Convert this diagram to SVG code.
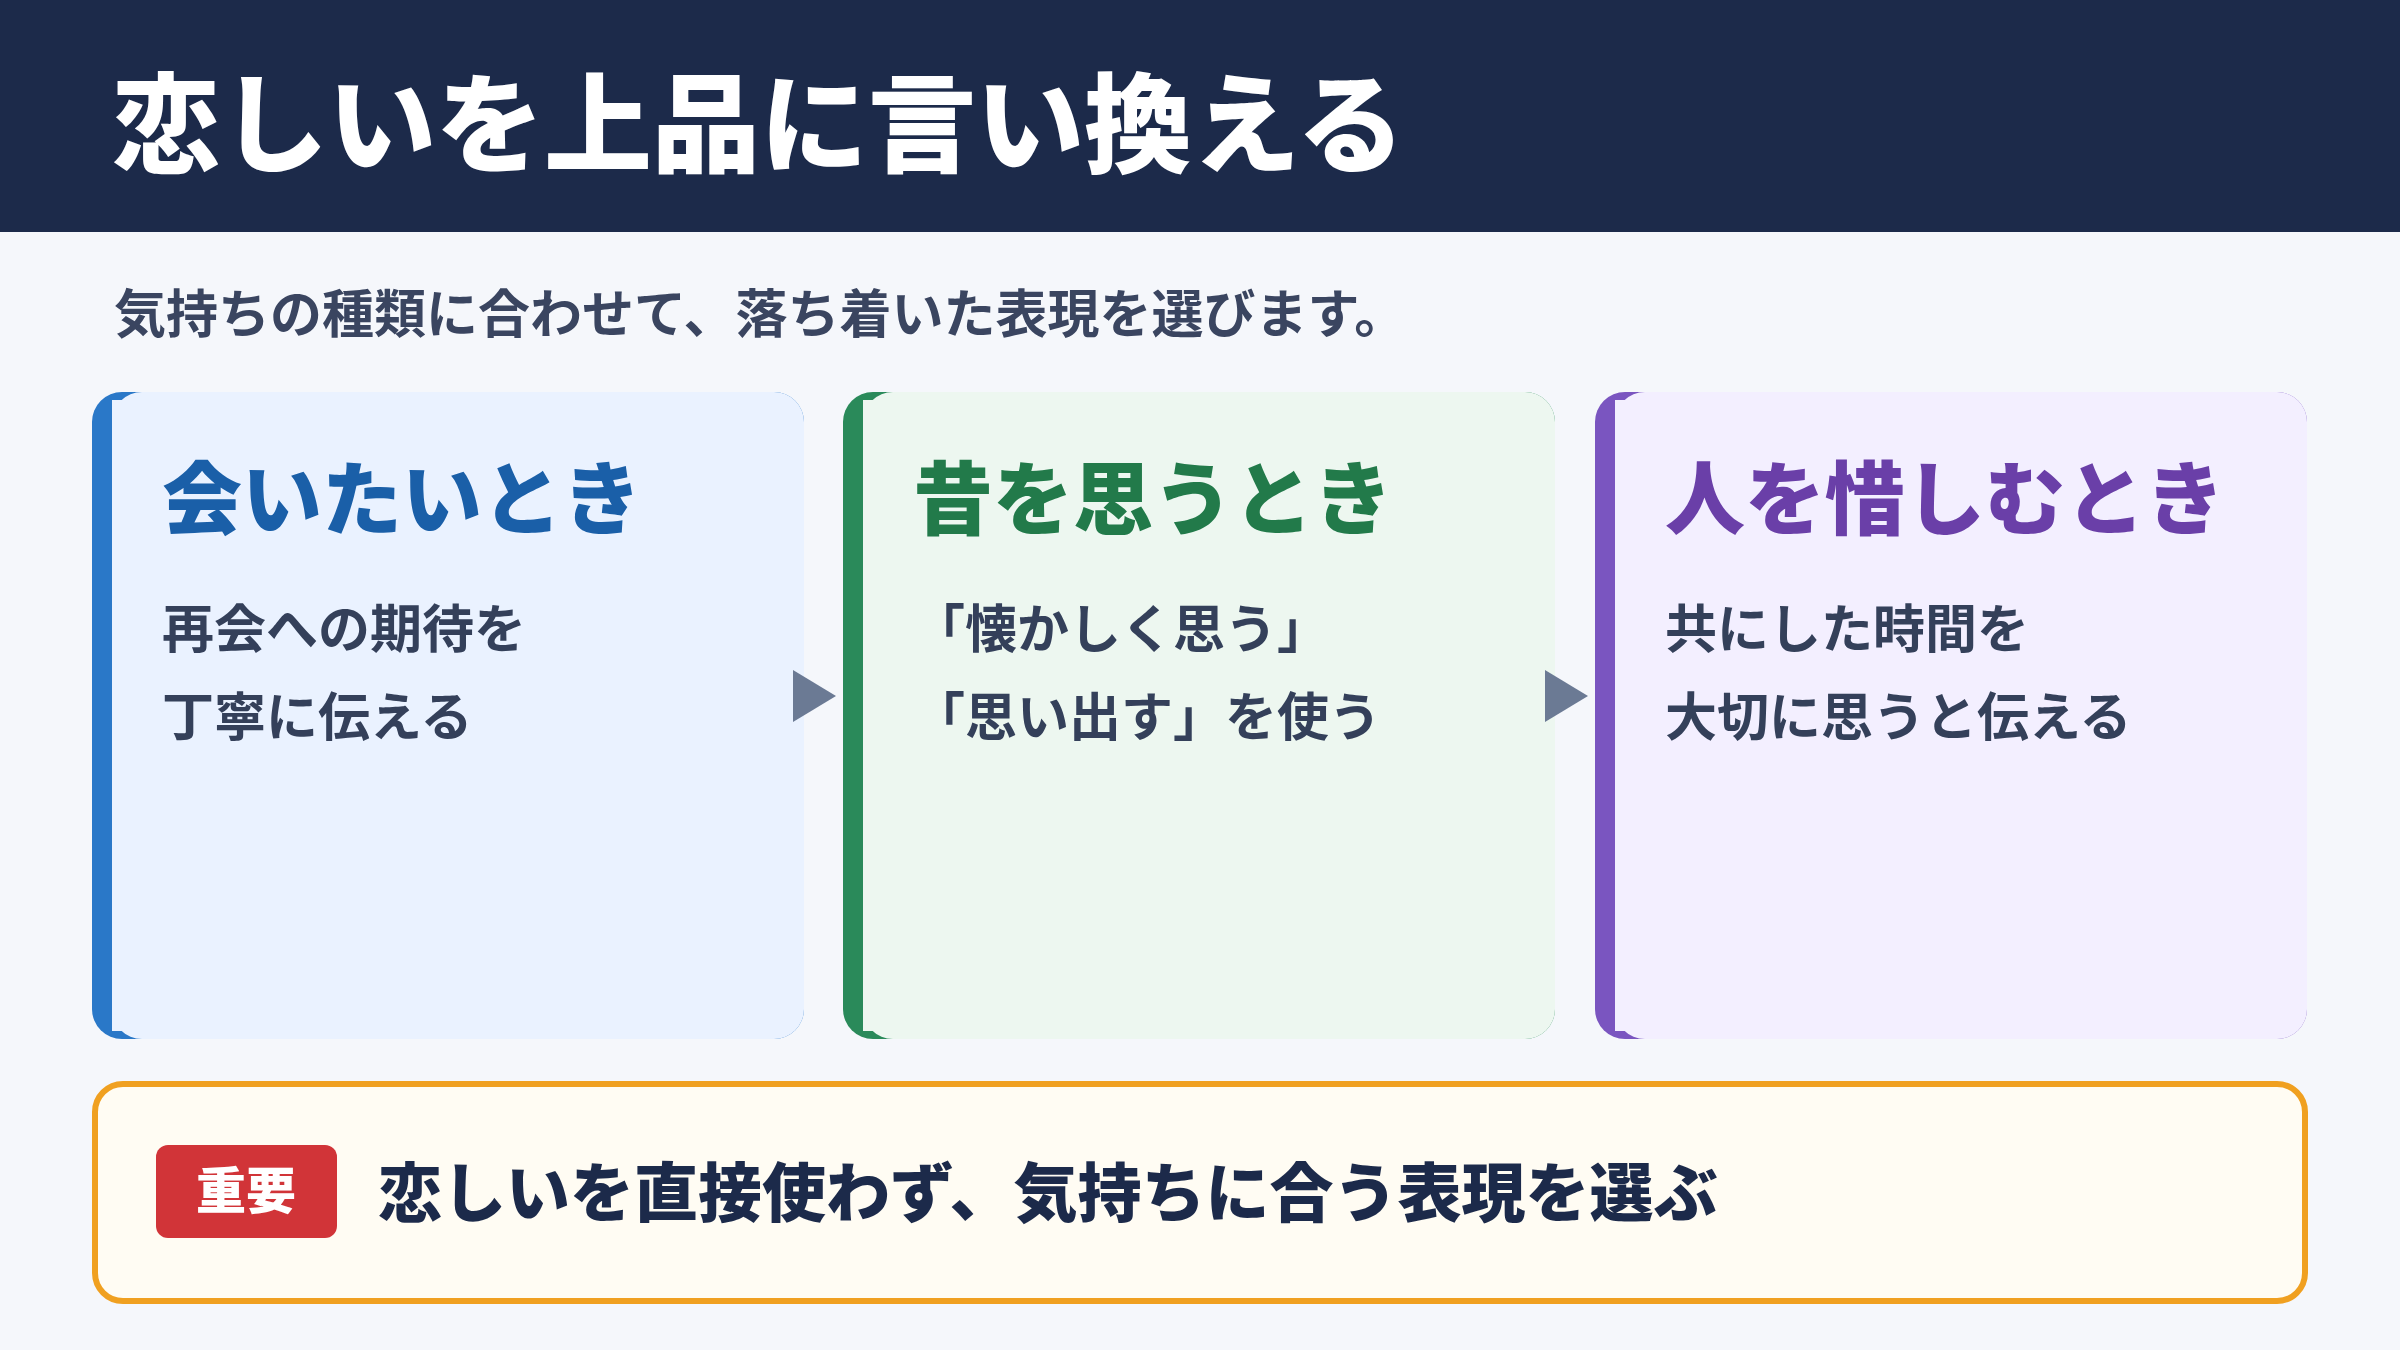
<svg xmlns="http://www.w3.org/2000/svg" width="2400" height="1350" viewBox="0 0 2400 1350">
<style>
text{font-family:"Noto Sans CJK JP","Noto Sans",sans-serif}
.ttl{font-size:80px;font-weight:900}
.body{font-size:52px;font-weight:700;fill:#34405a}
.arrow{fill:#6b7a94}
</style>
<rect width="2400" height="1350" fill="#f5f7fb"/>
<g id="header">
<rect width="2400" height="232" fill="#1c2a4a"/>
<text x="112" y="164" font-size="108" font-weight="900" fill="#ffffff">恋しいを上品に言い換える</text>
</g>
<text id="subtitle" x="114" y="333" font-size="52" font-weight="700" fill="#3a4560">気持ちの種類に合わせて、落ち着いた表現を選びます。</text>
<g id="card1">
<rect x="92" y="392" width="712" height="647" rx="30" fill="#2a78c8"/>
<rect x="112" y="392" width="692" height="647" rx="30" fill="#eaf2ff"/>
<rect x="112" y="400" width="30" height="631" fill="#eaf2ff"/>
<text class="ttl" x="162" y="528" fill="#1a5fa8">会いたいとき</text>
<text class="body" x="162" y="648">再会への期待を</text>
<text class="body" x="162" y="736">丁寧に伝える</text>
</g>
<g id="card2">
<rect x="843" y="392" width="712" height="647" rx="30" fill="#2a8a5a"/>
<rect x="863" y="392" width="692" height="647" rx="30" fill="#edf7f0"/>
<rect x="863" y="400" width="30" height="631" fill="#edf7f0"/>
<text class="ttl" x="913" y="528" fill="#227a4a">昔を思うとき</text>
<text class="body" x="913" y="648">「懐かしく思う」</text>
<text class="body" x="913" y="736">「思い出す」を使う</text>
</g>
<g id="card3">
<rect x="1595" y="392" width="712" height="647" rx="30" fill="#7a55c0"/>
<rect x="1615" y="392" width="692" height="647" rx="30" fill="#f3efff"/>
<rect x="1615" y="400" width="30" height="631" fill="#f3efff"/>
<text class="ttl" x="1665" y="528" fill="#6a3fa8">人を惜しむとき</text>
<text class="body" x="1665" y="648">共にした時間を</text>
<text class="body" x="1665" y="736">大切に思うと伝える</text>
</g>
<g id="connectors">
<polygon class="arrow" points="793,670 836,696 793,722"/>
<polygon class="arrow" points="1545,670 1588,696 1545,722"/>
</g>
<g id="note">
<rect x="95" y="1084" width="2210" height="217" rx="28" fill="#fffcf3" stroke="#f0a020" stroke-width="6"/>
<rect x="156" y="1145" width="181" height="93" rx="12" fill="#d13438"/>
<text x="246" y="1209" font-size="50" font-weight="900" fill="#ffffff" text-anchor="middle">重要</text>
<text x="378" y="1216" font-size="64" font-weight="900" fill="#1c2a4a">恋しいを直接使わず、気持ちに合う表現を選ぶ</text>
</g>
</svg>
